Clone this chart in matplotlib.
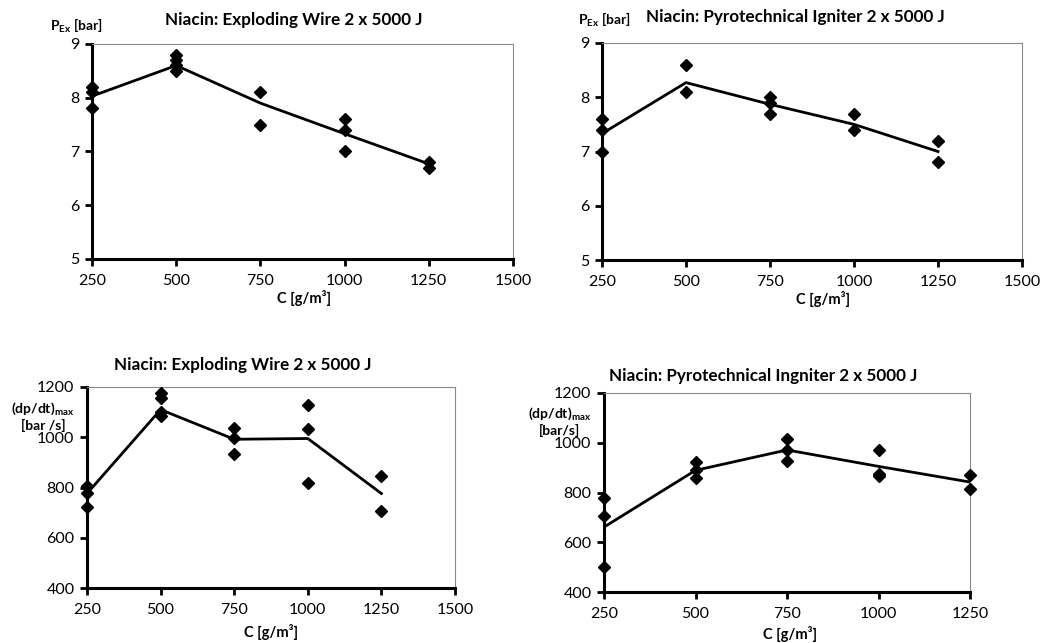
import matplotlib.pyplot as plt

plt.rcParams['font.family'] = ['Lato', 'DejaVu Sans']
plt.rcParams['mathtext.fontset'] = 'custom'
plt.rcParams['mathtext.rm'] = 'Lato'
plt.rcParams['mathtext.bf'] = 'Lato:bold'

# concentrations
conc = [250, 500, 750, 1000, 1250]

# P_ex, exploding wire: single measurements
ew_p_x = [250, 250, 250, 500, 500, 500, 500, 750, 750, 1000, 1000, 1000, 1250, 1250]
ew_p_y = [8.2, 8.1, 7.8, 8.8, 8.7, 8.6, 8.5, 8.1, 7.5, 7.6, 7.4, 7.0, 6.8, 6.7]
ew_p_mean = [8.03, 8.6, 7.9, 7.33, 6.77]

# P_ex, pyrotechnical igniter
pi_p_x = [250, 250, 250, 500, 500, 750, 750, 750, 1000, 1000, 1250, 1250]
pi_p_y = [7.6, 7.4, 7.0, 8.6, 8.1, 8.0, 7.9, 7.7, 7.7, 7.4, 7.2, 6.8]
pi_p_mean = [7.33, 8.27, 7.87, 7.5, 7.0]

# (dp/dt)max, exploding wire
ew_r_x = [250, 250, 250, 500, 500, 500, 500, 750, 750, 750, 1000, 1000, 1000, 1250, 1250]
ew_r_y = [806, 779, 722, 1175, 1155, 1100, 1085, 1038, 998, 932, 1128, 1034, 817, 845, 707]
ew_r_mean = [776, 1110, 992, 995, 776]

# (dp/dt)max, pyrotechnical igniter
pi_r_x = [250, 250, 250, 500, 500, 500, 750, 750, 750, 1000, 1000, 1000, 1250, 1250]
pi_r_y = [779, 705, 499, 922, 890, 859, 1016, 971, 927, 971, 873, 865, 872, 814]
pi_r_mean = [661, 889, 971, 905, 842]

W, H = 1040, 643
fig = plt.figure(figsize=(W / 100, H / 100), dpi=100)


def px_axes(left, top, right, bottom):
    return fig.add_axes([left / W, 1 - bottom / H, (right - left) / W, (bottom - top) / H])


def style(ax, xlim, xticks, ylim, yticks):
    ax.set_xlim(*xlim)
    ax.set_ylim(*ylim)
    ax.set_xticks(xticks)
    ax.set_yticks(yticks)
    for s in ['left', 'bottom']:
        ax.spines[s].set_linewidth(2.2)
        ax.spines[s].set_color('black')
    for s in ['top', 'right']:
        ax.spines[s].set_linewidth(0.8)
        ax.spines[s].set_color('#888888')
    ax.tick_params(direction='out', length=5, width=2, labelsize=11.5)
    ax.tick_params(axis='x', pad=6)
    ax.tick_params(axis='y', pad=4)


def draw(ax, xs, ys, mean):
    ax.plot(conc, mean, color='black', lw=2, zorder=2)
    ax.plot(xs, ys, 'D', color='black', ms=6, zorder=3, clip_on=False)


ax1 = px_axes(92, 44, 513, 259)
style(ax1, (250, 1500), [250, 500, 750, 1000, 1250, 1500], (5, 9), [5, 6, 7, 8, 9])
draw(ax1, ew_p_x, ew_p_y, ew_p_mean)

ax2 = px_axes(602, 43, 1022, 260)
style(ax2, (250, 1500), [250, 500, 750, 1000, 1250, 1500], (5, 9), [5, 6, 7, 8, 9])
draw(ax2, pi_p_x, pi_p_y, pi_p_mean)

ax3 = px_axes(87, 387, 455, 588)
style(ax3, (250, 1500), [250, 500, 750, 1000, 1250, 1500], (400, 1200), [400, 600, 800, 1000, 1200])
draw(ax3, ew_r_x, ew_r_y, ew_r_mean)

ax4 = px_axes(604, 393, 970, 592)
style(ax4, (250, 1250), [250, 500, 750, 1000, 1250], (400, 1200), [400, 600, 800, 1000, 1200])
draw(ax4, pi_r_x, pi_r_y, pi_r_mean)


def ftext(x, y, s, **kw):
    fig.text(x / W, 1 - y / H, s, ha='center', va='center', fontweight='bold', **kw)


ftext(294, 20, 'Niacin: Exploding Wire 2 x 5000 J', fontsize=12.3)
ftext(795, 17, 'Niacin: Pyrotechnical Igniter 2 x 5000 J', fontsize=12.3)
ftext(243, 365, 'Niacin: Exploding Wire 2 x 5000 J', fontsize=12.3)
ftext(763, 376, 'Niacin: Pyrotechnical Ingniter 2 x 5000 J', fontsize=12.3)

ftext(76, 26, r'P$_{\mathbf{Ex}}$ [bar]', fontsize=10)
ftext(604, 20, r'P$_{\mathbf{Ex}}$ [bar]', fontsize=10)
ftext(43, 416, '(dp/dt)$_{\\mathbf{max}}$\n[bar /s]', fontsize=10, linespacing=1.15)
ftext(560, 421, '(dp/dt)$_{\\mathbf{max}}$\n[bar/s]', fontsize=10, linespacing=1.15)

ftext(304, 298, 'C [g/m³]', fontsize=10.5)
ftext(823, 299, 'C [g/m³]', fontsize=10.5)
ftext(271, 632, 'C [g/m³]', fontsize=10.5)
ftext(790, 634, 'C [g/m³]', fontsize=10.5)

fig.savefig('out.png', dpi=100)
